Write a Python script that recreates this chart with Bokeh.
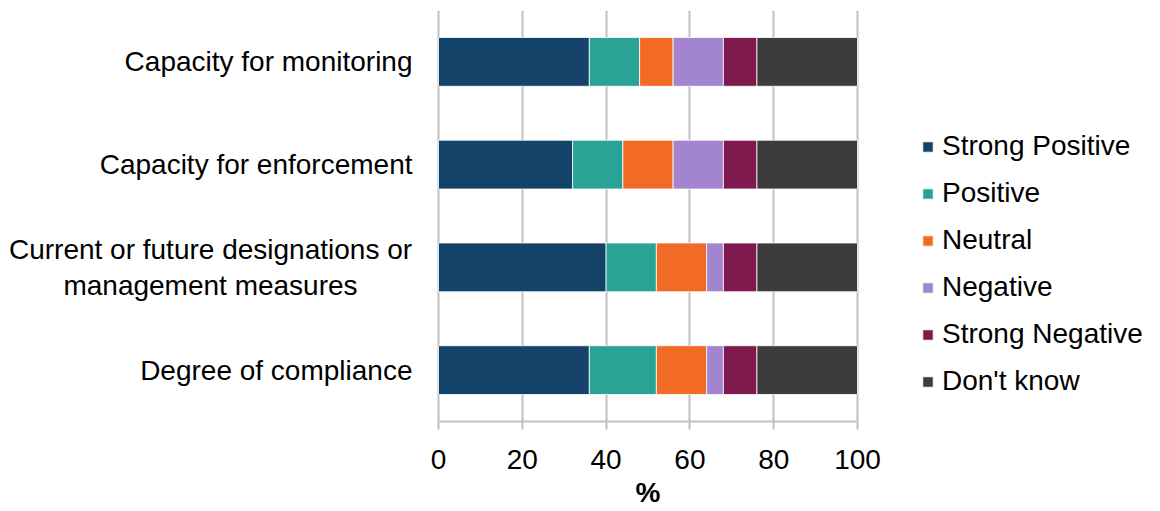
from bokeh.plotting import figure
from bokeh.models import ColumnDataSource, FactorRange, Legend, Range1d, Title
from bokeh.core.properties import value
from bokeh.embed import file_html
from bokeh.resources import INLINE

categories = [
    "Capacity for monitoring",
    "Capacity for enforcement",
    "Current or future designations or\nmanagement measures",
    "Degree of compliance",
]
series = ["Strong Positive", "Positive", "Neutral", "Negative", "Strong Negative", "Don't know"]
strong_positive = [36, 32, 40, 36]
positive = [12, 12, 12, 16]
neutral = [8, 12, 12, 12]
negative = [12, 12, 4, 4]
strong_negative = [8, 8, 8, 8]
dont_know = [24, 24, 24, 24]
colors = ["#144369", "#2AA397", "#F26B26", "#A284CF", "#7E1A4E", "#3C3C3C"]
x_ticks = [0, 20, 40, 60, 80, 100]

keys = ["sp", "pos", "neu", "neg", "sn", "dk"]
source = ColumnDataSource(dict(cat=categories, sp=strong_positive, pos=positive, neu=neutral,
                               neg=negative, sn=strong_negative, dk=dont_know))

FONT = "Liberation Sans"
FS = "28px"
GRID = "#BFBFBF"

# The frame spans the whole figure width; data 0..100 occupies pixels 438..857.
W, H = 1152, 511
X0_PX, X100_PX = 438, 857
PPU = (X100_PX - X0_PX) / 100.0
p = figure(width=W, height=H, output_backend="svg", toolbar_location=None,
           y_range=FactorRange(factors=list(reversed(categories))),
           x_range=Range1d(-X0_PX / PPU, (W - X0_PX) / PPU),
           min_border_left=0, min_border_right=0, min_border_top=10, min_border_bottom=10)
p.outline_line_color = None

renderers = p.hbar_stack(keys, y="cat", height=0.475, color=colors, source=source,
                         line_color="white", line_width=0.8)

# category labels
single = [c for c in categories if "\n" not in c]
multi = [c for c in categories if "\n" in c]
p.text(x=[0] * len(single), y=single, text=single, x_offset=-26,
       text_align="right", text_baseline="middle",
       text_font=value(FONT), text_font_size=FS, text_color="black")
p.text(x=[0] * len(multi), y=multi, text=multi, x_offset=-228,
       text_align="center", text_baseline="middle", text_line_height=1.15,
       text_font=value(FONT), text_font_size=FS, text_color="black")

p.yaxis.visible = False

p.xaxis.ticker = x_ticks
p.xaxis.bounds = (0, 100)
p.xaxis.major_label_text_font = FONT
p.xaxis.major_label_text_font_size = FS
p.xaxis.major_label_text_color = "black"
p.xaxis.major_label_standoff = 20
p.xaxis.axis_line_color = GRID
p.xaxis.axis_line_width = 2
p.xaxis.major_tick_line_color = GRID
p.xaxis.major_tick_line_width = 2
p.xaxis.major_tick_in = 0
p.xaxis.major_tick_out = 8
p.xaxis.minor_tick_line_color = None

p.add_layout(Title(text="%", align="left", offset=(X0_PX + X100_PX) / 2 - 12.5,
                   text_font=FONT, text_font_size=FS,
                   text_font_style="bold", text_color="black", standoff=7), "below")

p.xgrid.grid_line_color = GRID
p.xgrid.grid_line_width = 2
p.ygrid.grid_line_color = None

legend = Legend(items=[(s, [r]) for s, r in zip(series, renderers)],
                location=(921, 24), border_line_color=None, background_fill_alpha=0,
                padding=0, margin=0, glyph_width=13, glyph_height=13,
                label_text_font=FONT, label_text_font_size=FS, label_text_color="black",
                label_standoff=8, spacing=15, label_height=30)
p.add_layout(legend, "center")

open("out.html", "w").write(file_html(p, INLINE))
